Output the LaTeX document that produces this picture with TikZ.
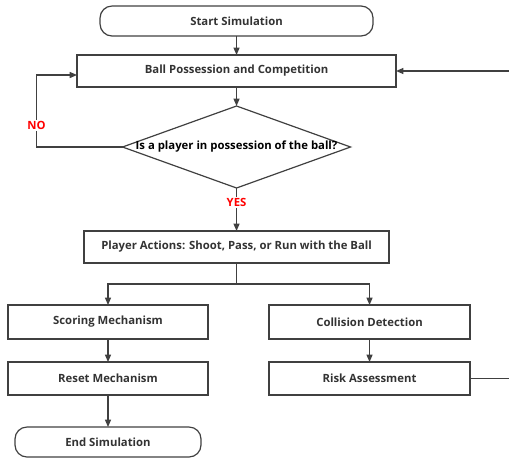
\documentclass[tikz,border=0pt]{standalone}
\usepackage{fontspec}
\setmainfont{Open Sans}
\usepackage{xcolor}
\usetikzlibrary{positioning,arrows.meta,shapes.geometric,calc}

\definecolor{linegray}{HTML}{404040}
\definecolor{textgray}{HTML}{333333}
\definecolor{yesred}{HTML}{FF0000}

\begin{document}
\begin{tikzpicture}[
  node distance=14.25pt,
  box/.style={draw=linegray, line width=0.9pt, align=center, inner sep=3pt, outer sep=0pt,
              font=\fontsize{8.5}{10}\selectfont\bfseries, text=textgray},
  proc/.style={box, minimum height=24pt},
  term/.style={box, rounded corners=9pt, minimum height=22.5pt},
  decision/.style={box, diamond, minimum width=171pt, minimum height=61.5pt,
                   inner sep=0pt, text=black},
  lbl/.style={fill=white, text=yesred, inner sep=1pt,
              font=\fontsize{8.5}{10}\selectfont\bfseries},
  flow/.style={->, draw=linegray, line width=0.9pt},
  >={Triangle[length=5.5pt,width=4.5pt]}
]
  \useasboundingbox (0,0) rectangle (381.75pt,-343.5pt);
  \clip (0,0) rectangle (381.75pt,-343.5pt);

  \node[term, minimum width=204.75pt] (start) at (177.4pt,-15.75pt) {Start Simulation};
  \node[proc, minimum width=239.25pt] (ball) [below=of start] {Ball Possession and Competition};
  \node[decision] (dia) [below=of ball] {\makebox[0pt]{Is a player in possession of the ball?}};
  \node[proc, minimum width=228.75pt] (act) [below=32.25pt of dia] {Player Actions: Shoot, Pass, or Run with the Ball};

  \node[proc, minimum width=150pt, minimum height=25.5pt] (score) [below=31.5pt of act, xshift=-96.4pt] {Scoring Mechanism};
  \node[proc, minimum width=150.75pt, minimum height=25.5pt] (coll) [below=31.5pt of act, xshift=99.75pt] {Collision Detection};
  \node[proc, minimum width=150pt, minimum height=24.75pt] (reset) [below=17.25pt of score] {Reset Mechanism};
  \node[proc, minimum width=150.75pt, minimum height=24.75pt] (risk) [below=17.25pt of coll] {Risk Assessment};
  \node[term, minimum width=139.5pt] (end) [below=24pt of reset] {End Simulation};

  \draw[flow] (start) -- (ball);
  \draw[flow] (ball) -- (dia);
  \draw[flow] (dia) -- node[lbl, pos=0.33] {YES} (act);
  \draw[flow] (dia.west) -- ++(-64.5pt,0) |- node[lbl, pos=0.15] {NO} ([yshift=-3pt]ball.west);
  \draw[flow, -] (act.south) -- ++(0,-15.75pt) coordinate (split);
  \draw[flow] (split) -| (score.north);
  \draw[flow] (split) -| (coll.north);
  \draw[flow] (score) -- (reset);
  \draw[flow] (reset) -- (end);
  \draw[flow] (coll) -- (risk);
  \draw[flow] (risk.east) -- ++(45pt,0) |- (ball.east);
\end{tikzpicture}
\end{document}
